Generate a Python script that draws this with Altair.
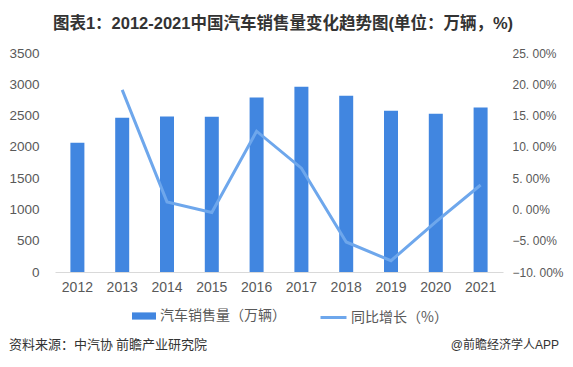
import altair as alt
import pandas as pd

years = ["2012", "2013", "2014", "2015", "2016", "2017", "2018", "2019", "2020", "2021"]
sales = [2065, 2465, 2485, 2480, 2790, 2960, 2815, 2578, 2530, 2628]
growth = [None, 19.1, 1.2, -0.5, 12.5, 6.6, -5.2, -8.2, -2.0, 3.9]

sales_name = "汽车销售量（万辆）"
growth_name = "同比增长（%）"
title_text = "图表1：2012-2021中国汽车销售量变化趋势图(单位：万辆，%)"
source_text = "资料来源：中汽协 前瞻产业研究院"
brand_text = "@前瞻经济学人APP"

sales_ticks = [0, 500, 1000, 1500, 2000, 2500, 3000, 3500]
growth_ticks = [-10, -5, 0, 5, 10, 15, 20, 25]

BAR = "#4186E0"
LINE = "#6EA7EC"
LAB = "#595959"
LATIN = "Liberation Sans, Noto Sans CJK SC"
CJK = "Noto Sans CJK SC"

df = pd.DataFrame({"year": years, "sales": sales, "growth": growth,
                   "s1": [sales_name] * len(years), "s2": [growth_name] * len(years)})

x_enc = alt.X("year:O", title=None,
              axis=alt.Axis(labelAngle=0, labelFont=LATIN, labelFontSize=14, labelColor=LAB,
                            labelPadding=8, ticks=False, domainColor="#D9D9D9", domainWidth=1,
                            grid=False),
              scale=alt.Scale(paddingInner=0.0, paddingOuter=0.0))

bars = alt.Chart(df).mark_bar(size=14).encode(
    x=x_enc,
    y=alt.Y("sales:Q", title=None,
            scale=alt.Scale(domain=[0, 3500], nice=False),
            axis=alt.Axis(values=sales_ticks, format="d", labelFont=LATIN, labelFontSize=13.5,
                          labelColor=LAB, labelPadding=16, ticks=False, domain=False,
                          grid=False, orient="left")),
    color=alt.Color("s1:N", scale=alt.Scale(domain=[sales_name], range=[BAR]),
                    legend=alt.Legend(title=None, orient="none", legendX=76, legendY=250,
                                      symbolType="M-1,-0.3H1V0.3H-1Z", symbolSize=576,
                                      labelFont=CJK, labelFontSize=14, labelColor=LAB,
                                      labelOffset=3, padding=0)),
)

line = alt.Chart(df).mark_line(strokeWidth=3).encode(
    x=alt.X("year:O"),
    y=alt.Y("growth:Q", title=None,
            scale=alt.Scale(domain=[-10, 25], nice=False),
            axis=alt.Axis(values=growth_ticks, labelFont=LATIN, labelFontSize=12, labelColor=LAB,
                          labelPadding=9, ticks=False, domain=False, grid=False, orient="right",
                          labelExpr="replace(format(datum.value, '.2f'), '.', '. ') + '%'")),
    color=alt.Color("s2:N", scale=alt.Scale(domain=[growth_name], range=[LINE]),
                    legend=alt.Legend(title=None, orient="none", legendX=264, legendY=250,
                                      symbolType="stroke", symbolSize=676, symbolStrokeWidth=3,
                                      labelFont=CJK, labelFontSize=14, labelColor=LAB,
                                      labelOffset=3, padding=0)),
)

src_df = pd.DataFrame({"t": [source_text]})
brand_df = pd.DataFrame({"t": [brand_text]})

source = alt.Chart(src_df).mark_text(align="left", baseline="middle", font=CJK,
                                     fontSize=13, color="#333333").encode(
    x=alt.value(-46), y=alt.value(292), text="t:N")
brand = alt.Chart(brand_df).mark_text(align="right", baseline="middle", font=LATIN,
                                      fontSize=12, color="#333333").encode(
    x=alt.value(504), y=alt.value(292), text="t:N")

chart = alt.layer(bars, line, source, brand).resolve_scale(
    y="independent", color="independent").resolve_legend(color="independent").properties(
    width=448, height=219,
    autosize=alt.AutoSizeParams(type="none"),
    padding={"left": 47, "top": 45, "right": 62, "bottom": 87},
    title=alt.TitleParams(text=title_text, font=LATIN, fontSize=16.5, fontWeight="bold",
                          color="#333333", anchor="middle", offset=14, dx=4),
).configure_view(stroke=None)

chart.save("out.html", embed_options={"renderer": "svg", "actions": False})
